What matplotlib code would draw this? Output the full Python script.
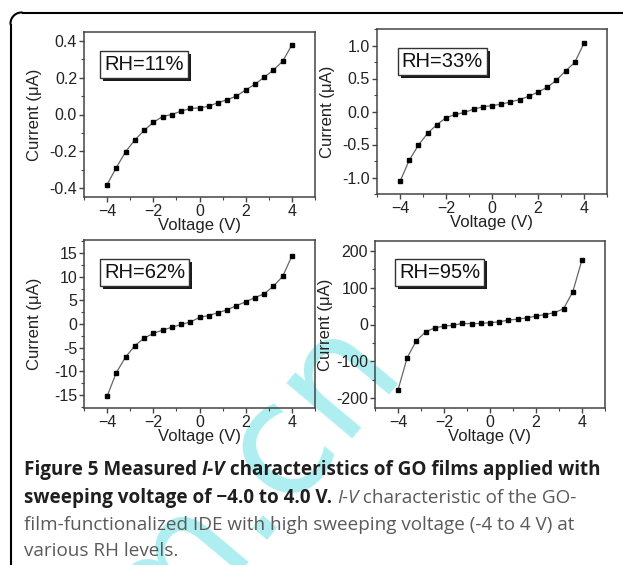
import numpy as np
import matplotlib
matplotlib.use("Agg")
import matplotlib.pyplot as plt
import matplotlib.patheffects as pe
from matplotlib.ticker import MultipleLocator

# ---------------- data ----------------
voltage = [-4.0, -3.6, -3.2, -2.8, -2.4, -2.0, -1.6, -1.2, -0.8, -0.4, 0.0,
           0.4, 0.8, 1.2, 1.6, 2.0, 2.4, 2.8, 3.2, 3.6, 4.0]
current_rh11 = [-0.382, -0.29, -0.203, -0.139, -0.087, -0.043, -0.011, 0.0, 0.018, 0.033, 0.036,
                0.045, 0.065, 0.08, 0.101, 0.134, 0.165, 0.203, 0.243, 0.29, 0.38]
current_rh33 = [-1.06, -0.74, -0.51, -0.33, -0.20, -0.095, -0.045, -0.015, 0.035, 0.07, 0.09,
                0.11, 0.145, 0.18, 0.23, 0.295, 0.365, 0.475, 0.615, 0.745, 1.035]
current_rh62 = [-15.3, -10.3, -7.0, -4.6, -3.0, -2.0, -1.3, -0.7, -0.1, 0.4, 1.4,
                1.8, 2.4, 3.0, 3.9, 4.7, 5.6, 6.4, 8.0, 10.1, 14.4]
current_rh95 = [-178, -90, -44, -20, -9, -4.5, -2, 3, 2, 3, 5,
                7, 12, 14.5, 18, 23, 27, 32, 43, 89, 176]
labels = ["RH=11%", "RH=33%", "RH=62%", "RH=95%"]
series = [current_rh11, current_rh33, current_rh62, current_rh95]
yticks_major = [0.2, 0.5, 5, 100]
ylims = [(-0.45, 0.45), (-1.25, 1.25), (-17.8, 17.8), (-227, 227)]
ytick_fmt = ["{:.1f}", "{:.1f}", "{:.0f}", "{:.0f}"]

W, H = 623, 565
fig = plt.figure(figsize=(W / 100, H / 100), dpi=100)

def px_axes(l, t, r, b):
    return fig.add_axes([l / W, 1 - b / H, (r - l) / W, (b - t) / H])

boxes_px = [(84, 32, 315, 197), (377, 29, 607, 194), (84, 240, 315, 408), (375, 241, 605, 408)]
label_pos = [(0.088, 0.862), (0.108, 0.862), (0.088, 0.862), (0.105, 0.870)]

axfont = ["Liberation Sans", "DejaVu Sans"]
spine_c = "#444444"
for i, (bx, ys) in enumerate(zip(boxes_px, series)):
    ax = px_axes(*bx)
    ax.set_facecolor("none")
    ax.plot(voltage, ys, color="#666666", lw=0.9, marker="s", ms=3.2,
            mfc="black", mec="black", zorder=3)
    ax.set_xlim(-5, 5)
    ax.set_ylim(*ylims[i])
    ax.xaxis.set_major_locator(MultipleLocator(2))
    ax.xaxis.set_minor_locator(MultipleLocator(1))
    ax.yaxis.set_major_locator(MultipleLocator(yticks_major[i]))
    ax.yaxis.set_minor_locator(MultipleLocator(yticks_major[i] / 2))
    fmt = ytick_fmt[i]
    ax.yaxis.set_major_formatter(plt.FuncFormatter(
        lambda v, p, f=fmt: f.format(0.0) if abs(v) < 1e-9 else f.format(v)))
    ax.tick_params(which="major", direction="out", length=3.5, width=1, color=spine_c,
                   labelsize=11.5, pad=1.5, top=False, right=False)
    ax.tick_params(which="minor", direction="out", length=2, width=0.8, color=spine_c,
                   top=False, right=False)
    for lab in ax.get_xticklabels() + ax.get_yticklabels():
        lab.set_family(axfont)
        lab.set_color("#222222")
    for s in ax.spines.values():
        s.set_color(spine_c)
        s.set_linewidth(1.1)
    ax.set_xlabel("Voltage (V)", fontsize=12, family=axfont, color="#222222")
    ax.set_ylabel("Current (\u03bcA)", fontsize=12, family=axfont, color="#222222")
    h_px = bx[3] - bx[1]
    ax.xaxis.set_label_coords(0.5, -21.0 / h_px)
    ax.xaxis.label.set_verticalalignment("top")
    ax.yaxis.set_label_coords(-0.182, 0.5)
    t = ax.text(label_pos[i][0], label_pos[i][1], labels[i], transform=ax.transAxes,
                fontsize=14.5, family=axfont, color="#111111", ha="left", va="top",
                bbox=dict(boxstyle="square,pad=0.2", fc="white", ec="#333333", lw=1.0),
                zorder=5)
    t.get_bbox_patch().set_path_effects([pe.SimplePatchShadow(offset=(2, -2), shadow_rgbFace="black", alpha=0.9), pe.Normal()])

# -------- rounded frame --------
frame = fig.add_axes([0, 0, 1, 1], zorder=-2)
frame.set_xlim(0, W)
frame.set_ylim(H, 0)
frame.axis("off")
r = 11
x0, y0 = 10.5, 12.5
frame.plot([x0, x0], [H + 5, y0 + r], color="black", lw=1.5, solid_capstyle="butt")
frame.plot([x0 + r, W + 5], [y0, y0], color="black", lw=1.5, solid_capstyle="butt")
th = np.linspace(np.pi, 1.5 * np.pi, 30)
frame.plot(x0 + r + r * np.cos(th), y0 + r + r * np.sin(th), color="black", lw=1.5)

# -------- watermark --------
fig.text(246 / W, 1 - 482 / H, "m.cn", fontsize=112, color="#aeeef0", rotation=50,
         ha="center", va="center", rotation_mode="anchor", family="DejaVu Sans", zorder=-1)

# -------- caption --------
cap_font = ["Open Sans", "DejaVu Sans"]
renderer = fig.canvas.get_renderer()

def draw_line(pieces, x_px, y_px):
    x = x_px
    for txt, weight, style, color, fs in pieces:
        t = fig.text(x / W, 1 - y_px / H, txt, fontsize=fs, family=cap_font,
                     weight=weight, style=style, color=color, ha="left", va="center")
        bb = t.get_window_extent(renderer=renderer)
        x += bb.width

bold_c = "#1f1f1f"
reg_c = "#5a5a5a"
fb, fr = 13.6, 13.6
draw_line([("Figure 5 Measured ", "bold", "normal", bold_c, fb),
           ("I-V", "bold", "italic", bold_c, fb),
           (" characteristics of GO films applied with", "bold", "normal", bold_c, fb)], 24, 470)
draw_line([("sweeping voltage of \u22124.0 to 4.0 V. ", "bold", "normal", bold_c, fb),
           ("I-V", "normal", "italic", reg_c, fr),
           (" characteristic of the GO-", "normal", "normal", reg_c, fr)], 24, 498)
draw_line([("film-functionalized IDE with high sweeping voltage (-4 to 4 V) at", "normal", "normal", reg_c, fr)], 24, 525)
draw_line([("various RH levels.", "normal", "normal", reg_c, fr)], 24, 551)

fig.savefig("out.png", dpi=100)
